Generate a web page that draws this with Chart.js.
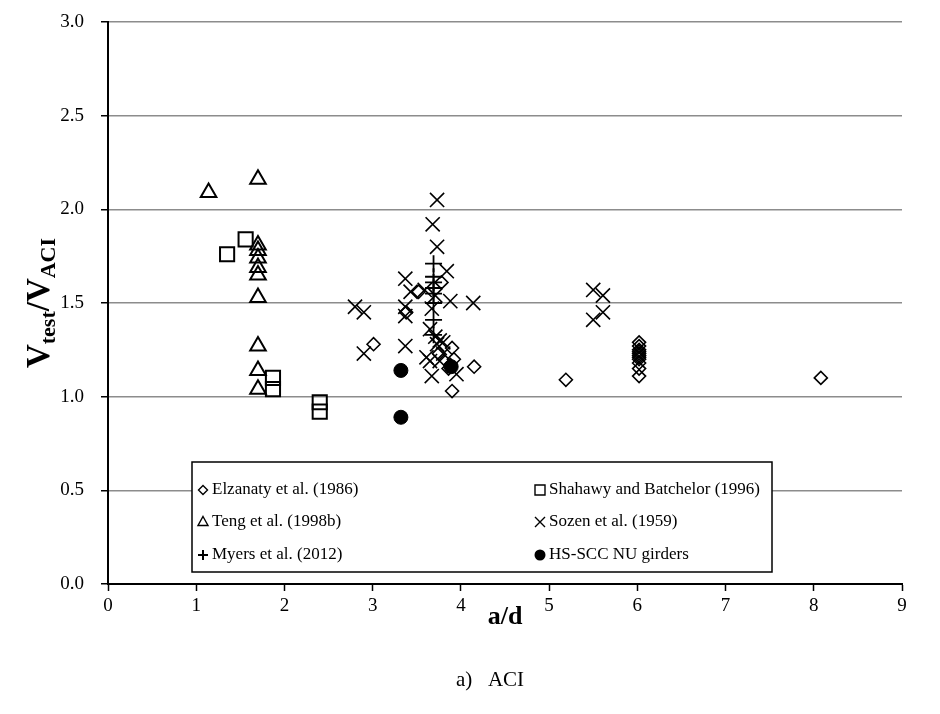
<!DOCTYPE html>
<html>
<head>
<meta charset="utf-8">
<script src="https://cdn.jsdelivr.net/npm/chart.js@4/dist/chart.umd.min.js"></script>
<style>
  html, body { margin: 0; padding: 0; background: #fff; }
  #wrap { width: 940px; height: 714px; position: relative; }
</style>
</head>
<body>
<div id="wrap"><canvas id="chart" width="940" height="714"></canvas></div>
<script>
const FONT = "'Liberation Serif', 'Times New Roman', serif";

const xTicks = [0, 1, 2, 3, 4, 5, 6, 7, 8, 9];
const yTicks = [0, 0.5, 1.0, 1.5, 2.0, 2.5, 3.0];

const seriesNames = [
  'Elzanaty et al. (1986)',
  'Shahawy and Batchelor (1996)',
  'Teng et al. (1998b)',
  'Sozen et al. (1959)',
  'Myers et al. (2012)',
  'HS-SCC NU girders',
];

// Elzanaty et al. (1986)
const elzX = [3.01, 3.38, 3.52, 3.78, 3.75, 3.90, 3.92, 3.86, 3.88, 3.90, 4.15, 5.19,
  6.02, 6.02, 6.02, 6.02, 6.02, 6.02, 6.02, 6.02, 6.02, 6.02, 6.02, 8.08];
const elzY = [1.28, 1.45, 1.56, 1.61, 1.23, 1.26, 1.20, 1.15, 1.17, 1.03, 1.16, 1.09,
  1.29, 1.27, 1.25, 1.24, 1.23, 1.22, 1.21, 1.20, 1.18, 1.15, 1.11, 1.10];

// Shahawy and Batchelor (1996)
const shaX = [1.35, 1.56, 1.87, 1.87, 2.40, 2.40];
const shaY = [1.76, 1.84, 1.10, 1.04, 0.97, 0.92];

// Teng et al. (1998b)
const tengX = [1.14, 1.70, 1.70, 1.70, 1.70, 1.70, 1.70, 1.70, 1.70, 1.70, 1.70];
const tengY = [2.09, 2.16, 1.81, 1.78, 1.74, 1.69, 1.65, 1.53, 1.27, 1.14, 1.04];

// Sozen et al. (1959)
const sozX = [2.80, 2.90, 2.90, 3.37, 3.37, 3.37, 3.37, 3.43,
  3.73, 3.68, 3.73, 3.84, 3.59, 3.71, 3.88, 3.67, 4.14, 3.65, 3.71, 3.76, 3.73, 3.80,
  3.80, 3.61, 3.76, 3.65, 3.95, 3.67, 5.50, 5.61, 5.50, 5.61];
const sozY = [1.48, 1.45, 1.23, 1.63, 1.48, 1.43, 1.27, 1.56,
  2.05, 1.92, 1.80, 1.67, 1.57, 1.54, 1.51, 1.47, 1.50, 1.36, 1.32, 1.30, 1.28, 1.29,
  1.23, 1.21, 1.19, 1.19, 1.12, 1.11, 1.57, 1.54, 1.41, 1.45];

// Myers et al. (2012)
const myersX = [3.69, 3.69, 3.69, 3.69, 3.69, 3.69, 3.69, 3.69];
const myersY = [1.71, 1.64, 1.61, 1.58, 1.55, 1.50, 1.41, 1.33];

// HS-SCC NU girders
const hsX = [3.32, 3.32, 3.89];
const hsY = [1.14, 0.89, 1.16];

const pts = (xs, ys) => xs.map((x, i) => ({ x, y: ys[i] }));

const styles = [
  { pointStyle: 'rectRot', pointRadius: 6.5, borderWidth: 1.6, fill: false },
  { pointStyle: 'rect', pointRadius: 10, borderWidth: 2, fill: false },
  { pointStyle: 'triangle', pointRadius: 9, borderWidth: 2, fill: false },
  { pointStyle: 'crossRot', pointRadius: 10, borderWidth: 1.6, fill: false },
  { pointStyle: 'cross', pointRadius: 8.5, borderWidth: 1.8, fill: false },
  { pointStyle: 'circle', pointRadius: 7, borderWidth: 1, fill: true },
];

const allData = [pts(elzX, elzY), pts(shaX, shaY), pts(tengX, tengY),
  pts(sozX, sozY), pts(myersX, myersY), pts(hsX, hsY)];

const datasets = allData.map((d, i) => ({
  label: seriesNames[i],
  data: d,
  pointStyle: styles[i].pointStyle,
  pointRadius: styles[i].pointRadius,
  pointHoverRadius: styles[i].pointRadius,
  pointBorderWidth: styles[i].borderWidth,
  pointBorderColor: '#000',
  pointBackgroundColor: styles[i].fill ? '#000' : 'rgba(0,0,0,0)',
  showLine: false,
}));

// legend marker, small version of the point styles
function drawMarker(ctx, style, x, y) {
  ctx.save();
  ctx.strokeStyle = '#000';
  ctx.fillStyle = '#000';
  ctx.lineWidth = 1.4;
  ctx.beginPath();
  if (style === 'rectRot') {
    ctx.moveTo(x, y - 4.5); ctx.lineTo(x + 4.5, y); ctx.lineTo(x, y + 4.5); ctx.lineTo(x - 4.5, y); ctx.closePath();
    ctx.stroke();
  } else if (style === 'rect') {
    ctx.rect(x - 5, y - 5, 10, 10); ctx.stroke();
  } else if (style === 'triangle') {
    ctx.moveTo(x, y - 5.5); ctx.lineTo(x + 5, y + 3.5); ctx.lineTo(x - 5, y + 3.5); ctx.closePath(); ctx.stroke();
  } else if (style === 'crossRot') {
    ctx.moveTo(x - 5, y - 5); ctx.lineTo(x + 5, y + 5); ctx.moveTo(x + 5, y - 5); ctx.lineTo(x - 5, y + 5); ctx.stroke();
  } else if (style === 'cross') {
    ctx.lineWidth = 2;
    ctx.moveTo(x - 5, y); ctx.lineTo(x + 5, y); ctx.moveTo(x, y - 5); ctx.lineTo(x, y + 5); ctx.stroke();
  } else {
    ctx.arc(x, y, 5.5, 0, Math.PI * 2); ctx.fill();
  }
  ctx.restore();
}

const decorations = {
  id: 'decorations',
  afterDraw(chart) {
    const ctx = chart.ctx;
    const area = chart.chartArea;

    // legend box
    const bx = 192, by = 462, bw = 580, bh = 110;
    ctx.save();
    ctx.fillStyle = '#fff';
    ctx.fillRect(bx, by, bw, bh);
    ctx.strokeStyle = '#000';
    ctx.lineWidth = 1.5;
    ctx.strokeRect(bx, by, bw, bh);
    ctx.font = '17px ' + FONT;
    ctx.fillStyle = '#000';
    ctx.textBaseline = 'middle';
    ctx.textAlign = 'left';
    const colX = [203, 540];
    const rowY = [490, 522, 555];
    seriesNames.forEach((name, i) => {
      const cx = colX[i % 2], cy = rowY[Math.floor(i / 2)];
      drawMarker(ctx, styles[i].pointStyle, cx, cy);
      ctx.fillText(name, cx + 9, cy);
    });
    ctx.restore();

    // y axis title with subscripts
    ctx.save();
    ctx.translate(40, (area.top + area.bottom) / 2);
    ctx.rotate(-Math.PI / 2);
    ctx.fillStyle = '#000';
    ctx.textBaseline = 'alphabetic';
    const big = 'bold 33px ' + FONT, small = 'bold 22px ' + FONT;
    const parts = [['V', big, 0], ['test', small, 6], ['/V', big, 0], ['ACI', small, 6]];
    let total = 0;
    parts.forEach(p => { ctx.font = p[1]; total += ctx.measureText(p[0]).width; });
    let px = -total / 2;
    parts.forEach(p => {
      ctx.font = p[1];
      ctx.fillText(p[0], px, 9 + p[2]);
      px += ctx.measureText(p[0]).width;
    });
    ctx.restore();

    // x axis title
    ctx.save();
    ctx.font = 'bold 26px ' + FONT;
    ctx.fillStyle = '#000';
    ctx.textAlign = 'center';
    ctx.textBaseline = 'middle';
    ctx.fillText('a/d', (area.left + area.right) / 2, 617);
    ctx.restore();

    // caption
    ctx.save();
    ctx.font = '21px ' + FONT;
    ctx.fillStyle = '#000';
    ctx.textAlign = 'center';
    ctx.textBaseline = 'middle';
    ctx.fillText('a)   ACI', 490, 680);
    ctx.restore();
  },
};

new Chart(document.getElementById('chart'), {
  type: 'scatter',
  data: { datasets },
  options: {
    responsive: false,
    animation: false,
    events: [],
    layout: { padding: { left: 0, top: 22, right: 38, bottom: 0 } },
    plugins: { legend: { display: false }, tooltip: { enabled: false } },
    scales: {
      x: {
        type: 'linear',
        min: 0,
        max: 9,
        afterBuildTicks: s => { s.ticks = xTicks.map(v => ({ value: v })); },
        afterFit: s => { s.height = 130; },
        grid: { drawOnChartArea: false, drawTicks: true, tickLength: 7, tickColor: '#000', tickWidth: 1.5 },
        border: { color: '#000', width: 2 },
        ticks: { color: '#000', font: { family: FONT, size: 19 }, padding: 4, maxRotation: 0 },
      },
      y: {
        type: 'linear',
        min: 0,
        max: 3,
        afterBuildTicks: s => { s.ticks = yTicks.map(v => ({ value: v })); },
        afterFit: s => { s.width = 108; s.paddingTop = 0; s.paddingBottom = 0; },
        grid: { color: '#8c8c8c', lineWidth: 1.5, drawTicks: true, tickLength: 7, tickColor: '#000', tickWidth: 1.5 },
        border: { color: '#000', width: 2 },
        ticks: { color: '#000', font: { family: FONT, size: 19 }, padding: 17, callback: v => v.toFixed(1) },
      },
    },
  },
  plugins: [decorations],
});
</script>
</body>
</html>
